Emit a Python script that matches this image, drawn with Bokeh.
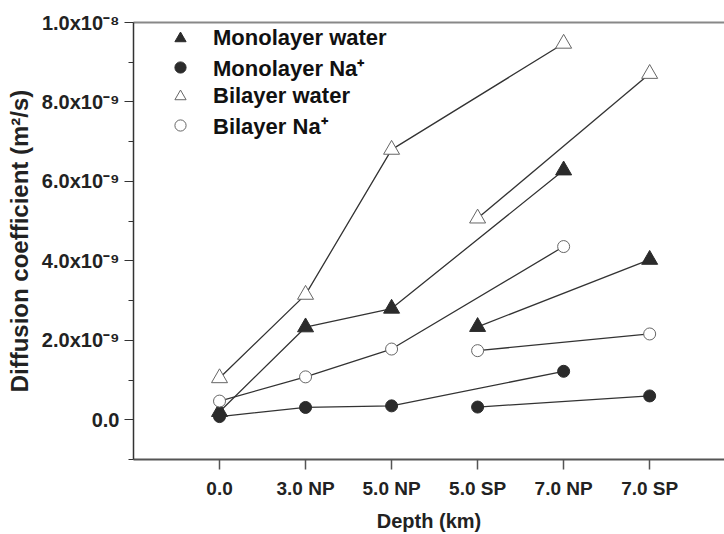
from bokeh.plotting import figure
from bokeh.models import (Range1d, FixedTicker, LinearAxis, Legend, LegendItem,
                          CustomJSTickFormatter)
from bokeh.embed import file_html
from bokeh.resources import INLINE

# ---- data (diffusion coefficients in m^2/s) ----
categories = ["0.0", "3.0 NP", "5.0 NP", "5.0 SP", "7.0 NP", "7.0 SP"]
np_depths = ["0.0", "3.0 NP", "5.0 NP", "7.0 NP"]
sp_depths = ["5.0 SP", "7.0 SP"]

mono_water_np = [0.20e-9, 2.33e-9, 2.80e-9, 6.28e-9]
mono_water_sp = [2.34e-9, 4.03e-9]
mono_na_np = [0.08e-9, 0.31e-9, 0.35e-9, 1.22e-9]
mono_na_sp = [0.32e-9, 0.60e-9]
bi_water_np = [1.05e-9, 3.15e-9, 6.80e-9, 9.47e-9]
bi_water_sp = [5.07e-9, 8.71e-9]
bi_na_np = [0.47e-9, 1.08e-9, 1.78e-9, 4.36e-9]
bi_na_sp = [1.74e-9, 2.16e-9]

y_major = [0, 2e-9, 4e-9, 6e-9, 8e-9, 1e-8]
y_minor = [-1e-9, 1e-9, 3e-9, 5e-9, 7e-9, 9e-9]

xpos = {c: i + 1 for i, c in enumerate(categories)}
np_x = [xpos[c] for c in np_depths]
sp_x = [xpos[c] for c in sp_depths]

FONT = "Liberation Sans"
DARK = "#2b2b2b"
LINE = "#333333"

p = figure(width=724, height=534, output_backend="svg", toolbar_location=None,
           x_range=Range1d(0, 6.87), y_range=Range1d(-1e-9, 1e-8),
           min_border_left=133, min_border_right=0, min_border_top=22,
           min_border_bottom=70)
p.outline_line_color = None
p.grid.visible = False
p.background_fill_color = "white"
p.border_fill_color = "white"

# x axis
xa = p.xaxis[0]
xa.ticker = FixedTicker(ticks=[xpos[c] for c in categories])
xa.major_label_overrides = {xpos[c]: c for c in categories}
xa.axis_label = "Depth (km)"
xa.axis_label_text_font = FONT
xa.axis_label_text_font_style = "bold"
xa.axis_label_text_font_size = "20px"
xa.axis_label_text_color = "#222222"
xa.axis_label_standoff = 8
xa.major_label_text_font = FONT
xa.major_label_text_font_style = "bold"
xa.major_label_text_font_size = "19px"
xa.major_label_text_color = "#222222"
xa.major_label_standoff = 8
xa.major_tick_out = 10
xa.major_tick_in = 0
xa.minor_tick_line_color = None
xa.axis_line_color = "#555555"
xa.axis_line_width = 2
xa.major_tick_line_color = "#555555"
xa.major_tick_line_width = 1.5

# y axis
ya = p.yaxis[0]
ya.ticker = FixedTicker(ticks=y_major, minor_ticks=y_minor)
ya.formatter = CustomJSTickFormatter(code="""
const m = Math.round(tick * 1e10) / 10;
if (m == 0) { return "0.0"; }
if (m >= 10) { return (m / 10).toFixed(1) + "x10\u207b\u2078"; }
return m.toFixed(1) + "x10\u207b\u2079";
""")
ya.axis_label = "Diffusion coefficient (m\u00b2/s)"
ya.axis_label_text_font = FONT
ya.axis_label_text_font_style = "bold"
ya.axis_label_text_font_size = "24px"
ya.axis_label_text_color = "#222222"
ya.axis_label_standoff = 6
ya.major_label_text_font = FONT
ya.major_label_text_font_style = "bold"
ya.major_label_text_font_size = "20px"
ya.major_label_text_color = "#222222"
ya.major_label_standoff = 5
ya.major_tick_out = 9
ya.major_tick_in = 0
ya.minor_tick_out = 5
ya.minor_tick_in = 0
ya.axis_line_color = "#333333"
ya.axis_line_width = 1.5
ya.major_tick_line_color = "#333333"
ya.minor_tick_line_color = "#333333"

# top frame line
top = LinearAxis(ticker=FixedTicker(ticks=[]), major_tick_out=0, major_tick_in=0,
                 major_label_standoff=0, axis_line_color="#888888",
                 axis_line_width=2, minor_tick_line_color=None)
p.add_layout(top, "above")

# lines
for xs, ys in [(np_x, bi_water_np), (sp_x, bi_water_sp),
               (np_x, mono_water_np), (sp_x, mono_water_sp),
               (np_x, bi_na_np), (sp_x, bi_na_sp),
               (np_x, mono_na_np), (sp_x, mono_na_sp)]:
    p.line(xs, ys, line_color=LINE, line_width=1.3)

all_x = np_x + sp_x
r_mw = p.scatter(all_x, mono_water_np + mono_water_sp, marker="triangle", size=16,
                 fill_color=DARK, line_color=DARK)
r_mn = p.scatter(all_x, mono_na_np + mono_na_sp, marker="circle", size=12,
                 fill_color=DARK, line_color=DARK)
r_bw = p.scatter(all_x, bi_water_np + bi_water_sp, marker="triangle", size=16,
                 fill_color="white", line_color="#666666", line_width=1)
r_bn = p.scatter(all_x, bi_na_np + bi_na_sp, marker="circle", size=12,
                 fill_color="white", line_color="#666666", line_width=1)

legend = Legend(items=[
    LegendItem(label="Monolayer water", renderers=[r_mw]),
    LegendItem(label="Monolayer Na\u207a", renderers=[r_mn]),
    LegendItem(label="Bilayer water", renderers=[r_bw]),
    LegendItem(label="Bilayer Na\u207a", renderers=[r_bn]),
], location=(33, 319), margin=0, padding=0, spacing=0,
    glyph_width=28, glyph_height=28, label_height=28, label_standoff=19,
    label_text_font=FONT, label_text_font_style="bold",
    label_text_font_size="22px", label_text_color="#111111",
    border_line_color=None, background_fill_alpha=0)
p.add_layout(legend, "center")

open("out.html", "w").write(file_html(p, INLINE))
